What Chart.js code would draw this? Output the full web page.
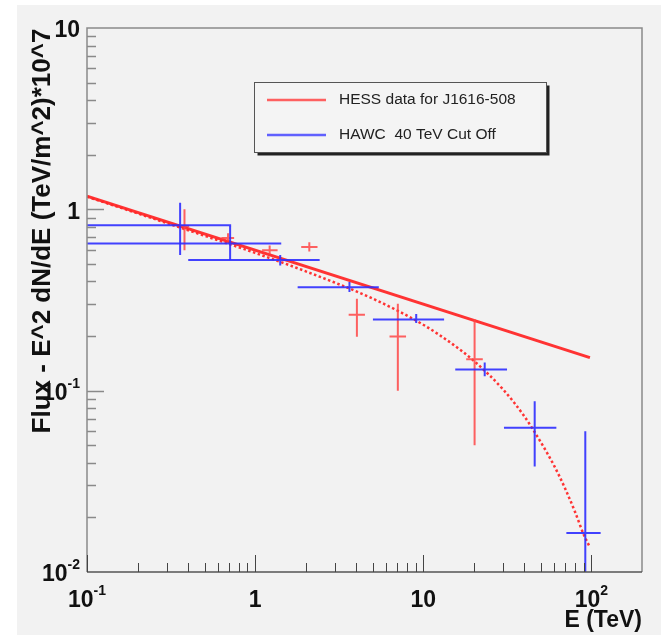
<!DOCTYPE html>
<html>
<head>
<meta charset="utf-8">
<script src="https://cdn.jsdelivr.net/npm/chart.js@4.4.0/dist/chart.umd.min.js"></script>
<style>
  html, body { margin: 0; padding: 0; background: #ffffff; }
  #sed { position: absolute; left: 0; top: 0; }
</style>
</head>
<body>
<canvas id="sed" width="667" height="635"></canvas>
<script>
// HESS points for J1616-508 (energy in TeV, E^2 dN/dE scaled by 1e7)
var hessE    = [0.38, 0.69, 1.22, 2.1, 4.03, 7.06, 20.2];
var hessELo  = [0.355, 0.63, 1.1, 1.88, 3.6, 6.3, 18.0];
var hessEHi  = [0.405, 0.75, 1.36, 2.35, 4.5, 7.9, 22.6];
var hessFlux = [0.81, 0.695, 0.595, 0.62, 0.262, 0.199, 0.149];
var hessLo   = [0.595, 0.667, 0.568, 0.586, 0.198, 0.1, 0.05];
var hessHi   = [1.0, 0.738, 0.631, 0.658, 0.321, 0.302, 0.248];

// HAWC points
var hawcE    = [0.358, 0.71, 1.41, 3.64, 9.08, 23.2, 46, 92];
var hawcELo  = [0.1, 0.1, 0.4, 1.79, 5.02, 15.5, 30.2, 71];
var hawcEHi  = [0.72, 1.43, 2.42, 5.44, 13.3, 31.5, 61.9, 113.5];
var hawcFlux = [0.818, 0.648, 0.525, 0.372, 0.247, 0.131, 0.0624, 0.0164];
var hawcLo   = [0.56, 0.525, 0.49, 0.35, 0.236, 0.12, 0.0382, 0.005];
var hawcHi   = [1.088, 0.81, 0.56, 0.398, 0.265, 0.143, 0.0873, 0.0597];

// HESS power law fit
var fitE    = [0.1, 98];
var fitFlux = [1.18, 0.152];

// same spectrum with the 40 TeV cut off
var cutE    = [0.1, 0.2, 0.5, 1, 2, 5, 10, 15, 20, 30, 40, 50, 60, 70, 80, 90, 98];
var cutFlux = [1.175, 0.95, 0.715, 0.575, 0.455, 0.322, 0.231, 0.18, 0.146, 0.101, 0.072, 0.052, 0.0386, 0.0287, 0.0214, 0.0161, 0.0137];

// axis ticks
var xMajor = [0.1, 1, 10, 100];
var xLabels = [['10', '-1'], ['1', ''], ['10', ''], ['10', '2']];
var yMajor = [0.01, 0.1, 1, 10];
var yLabels = [['10', '-2'], ['10', '-1'], ['1', ''], ['10', '']];

var hessLabel = 'HESS data for J1616-508';
var hawcLabel = 'HAWC  40 TeV Cut Off';

var RED = 'rgba(255, 40, 40, 0.95)';
var RED_BAR = 'rgba(255, 70, 70, 0.85)';
var BLUE = 'rgba(45, 45, 255, 0.9)';
var FONT = '"Liberation Sans", Arial, Helvetica, sans-serif';

function pts(xs, ys) {
    return xs.map(function (x, i) { return { x: x, y: ys[i] }; });
}

// crosses for the measured points
function drawErrors(chart, color, e, eLo, eHi, f, lo, hi) {
    var ctx = chart.ctx;
    var xs = chart.scales.x, ys = chart.scales.y;
    var a = chart.chartArea;
    ctx.save();
    ctx.beginPath();
    ctx.rect(a.left, a.top, a.right - a.left, a.bottom - a.top);
    ctx.clip();
    ctx.strokeStyle = color;
    ctx.lineWidth = 2;
    for (var i = 0; i < e.length; i++) {
        var px = xs.getPixelForValue(e[i]);
        var py = ys.getPixelForValue(f[i]);
        ctx.beginPath();
        ctx.moveTo(xs.getPixelForValue(eLo[i]), py);
        ctx.lineTo(xs.getPixelForValue(eHi[i]), py);
        ctx.moveTo(px, ys.getPixelForValue(lo[i]));
        ctx.lineTo(px, ys.getPixelForValue(hi[i]));
        ctx.stroke();
    }
    ctx.restore();
}

function drawPow(ctx, base, exp, x, y, align) {
    ctx.font = 'bold 23px ' + FONT;
    var wb = ctx.measureText(base).width;
    ctx.font = 'bold 14px ' + FONT;
    var we = exp ? ctx.measureText(exp).width : 0;
    var left = align === 'right' ? x - wb - we : x - (wb + we) / 2;
    ctx.textAlign = 'left';
    ctx.textBaseline = 'middle';
    ctx.font = 'bold 23px ' + FONT;
    ctx.fillText(base, left, y);
    if (exp) {
        ctx.font = 'bold 14px ' + FONT;
        ctx.fillText(exp, left + wb, y - 10);
    }
}

var framePlugin = {
    id: 'frame',
    beforeDraw: function (chart) {
        var ctx = chart.ctx;
        ctx.save();
        ctx.fillStyle = '#f2f2f2';
        ctx.fillRect(17, 5, 644, 630);
        ctx.restore();
    },
    afterDatasetsDraw: function (chart) {
        drawErrors(chart, RED_BAR, hessE, hessELo, hessEHi, hessFlux, hessLo, hessHi);
        drawErrors(chart, BLUE, hawcE, hawcELo, hawcEHi, hawcFlux, hawcLo, hawcHi);
    },
    afterDraw: function (chart) {
        var ctx = chart.ctx;
        var a = chart.chartArea;
        var xs = chart.scales.x, ys = chart.scales.y;
        ctx.save();

        // frame
        ctx.lineWidth = 1.5;
        ctx.strokeStyle = '#8a8a8a';
        ctx.beginPath();
        ctx.moveTo(a.left, a.bottom);
        ctx.lineTo(a.left, a.top);
        ctx.lineTo(a.right, a.top);
        ctx.lineTo(a.right, a.bottom);
        ctx.stroke();
        ctx.strokeStyle = '#555555';
        ctx.beginPath();
        ctx.moveTo(a.left, a.bottom);
        ctx.lineTo(a.right, a.bottom);
        ctx.stroke();

        // x ticks
        ctx.lineWidth = 1;
        ctx.strokeStyle = '#444444';
        ctx.beginPath();
        xMajor.forEach(function (d) {
            for (var k = 1; k < 10; k++) {
                var v = d * k;
                if (v < xs.min || v >= xs.max) continue;
                var px = Math.round(xs.getPixelForValue(v)) + 0.5;
                ctx.moveTo(px, a.bottom);
                ctx.lineTo(px, a.bottom - (k === 1 ? 17 : 9));
            }
        });
        ctx.stroke();

        // y ticks
        ctx.strokeStyle = '#8a8a8a';
        ctx.lineWidth = 1.5;
        ctx.beginPath();
        yMajor.forEach(function (d) {
            for (var k = 1; k < 10; k++) {
                var v = d * k;
                if (v <= ys.min || v >= ys.max) continue;
                var py = Math.round(ys.getPixelForValue(v)) + 0.5;
                ctx.moveTo(a.left, py);
                ctx.lineTo(a.left + (k === 1 ? 17 : 9), py);
            }
        });
        ctx.stroke();

        // tick labels
        ctx.fillStyle = '#111111';
        xMajor.forEach(function (v, i) {
            drawPow(ctx, xLabels[i][0], xLabels[i][1], xs.getPixelForValue(v), a.bottom + 29, 'center');
        });
        yMajor.forEach(function (v, i) {
            drawPow(ctx, yLabels[i][0], yLabels[i][1], a.left - 7, ys.getPixelForValue(v) + 3, 'right');
        });

        // axis titles
        ctx.font = 'bold 23px ' + FONT;
        ctx.textAlign = 'right';
        ctx.textBaseline = 'alphabetic';
        ctx.fillText('E (TeV)', a.right, 627);

        ctx.save();
        ctx.translate(43, 231);
        ctx.rotate(-Math.PI / 2);
        ctx.font = 'bold 26px ' + FONT;
        ctx.textAlign = 'center';
        ctx.textBaseline = 'middle';
        ctx.fillText('Flux - E^2 dN/dE (TeV/m^2)*10^7', 0, 0);
        ctx.restore();

        // legend box with shadow
        var lx = 254.5, ly = 82.5, lw = 292, lh = 70;
        ctx.fillStyle = '#222222';
        ctx.fillRect(lx + 3, ly + 3, lw, lh);
        ctx.fillStyle = '#f4f4f4';
        ctx.fillRect(lx, ly, lw, lh);
        ctx.strokeStyle = '#555555';
        ctx.lineWidth = 1;
        ctx.strokeRect(lx, ly, lw, lh);

        ctx.lineWidth = 2.5;
        ctx.strokeStyle = 'rgba(255, 80, 80, 0.9)';
        ctx.beginPath();
        ctx.moveTo(267, 100);
        ctx.lineTo(326, 100);
        ctx.stroke();
        ctx.strokeStyle = 'rgba(80, 80, 255, 0.9)';
        ctx.beginPath();
        ctx.moveTo(267, 135);
        ctx.lineTo(326, 135);
        ctx.stroke();

        ctx.fillStyle = '#222222';
        ctx.font = '15.5px ' + FONT;
        ctx.textAlign = 'left';
        ctx.textBaseline = 'middle';
        ctx.fillText(hessLabel, 339, 100);
        ctx.fillText(hawcLabel, 339, 135);

        ctx.restore();
    }
};

var sedChart = new Chart(document.getElementById('sed'), {
    type: 'scatter',
    data: {
        datasets: [
            {
                label: 'power law',
                data: pts(fitE, fitFlux),
                showLine: true,
                borderColor: RED,
                borderWidth: 3,
                pointRadius: 0
            },
            {
                label: '40 TeV cut off',
                data: pts(cutE, cutFlux),
                showLine: true,
                borderColor: RED,
                borderWidth: 2.5,
                borderDash: [2.5, 2.5],
                cubicInterpolationMode: 'monotone',
                pointRadius: 0
            },
            {
                label: hessLabel,
                data: pts(hessE, hessFlux),
                pointRadius: 0
            },
            {
                label: hawcLabel,
                data: pts(hawcE, hawcFlux),
                pointRadius: 0
            }
        ]
    },
    options: {
        responsive: false,
        animation: false,
        devicePixelRatio: 1,
        layout: { padding: { left: 87, top: 28, right: 25, bottom: 63 } },
        scales: {
            x: { type: 'logarithmic', min: 0.1, max: 200, display: false },
            y: { type: 'logarithmic', min: 0.01, max: 10, display: false }
        },
        plugins: {
            legend: { display: false },
            tooltip: { enabled: false }
        }
    },
    plugins: [framePlugin]
});
</script>
</body>
</html>
